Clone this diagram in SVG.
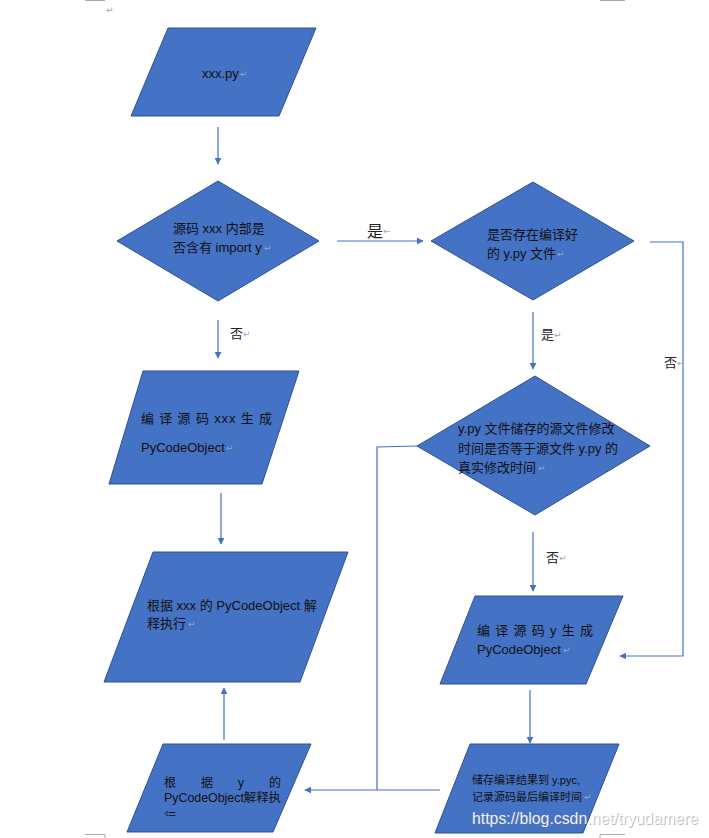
<svg xmlns="http://www.w3.org/2000/svg" width="709" height="838" viewBox="0 0 709 838">
<style>
.shape{fill:#4472C4;stroke:#2F528F;stroke-width:1}
.conn{fill:none;stroke:#4472C4;stroke-width:1.2}
.t{font-family:"Liberation Sans","Noto Sans CJK SC",sans-serif;font-size:13px;fill:#111}
.s{font-size:11px}
.lbl{font-family:"Noto Sans CJK SC","Liberation Sans",sans-serif;font-size:13px;fill:#222}
.rm{font-family:"DejaVu Sans",sans-serif;font-size:9px;fill:#9aa6bf}
.crn{stroke:#aaa;stroke-width:1;fill:none}
.wm{font-family:"Liberation Sans",sans-serif;font-size:17px}
</style>
<defs>
<marker id="ah" viewBox="0 0 10 10" refX="9" refY="5" markerWidth="7" markerHeight="7" markerUnits="userSpaceOnUse" orient="auto">
<path d="M0,0 L10,5 L0,10 z" fill="#4472C4"/>
</marker>
<clipPath id="c6"><rect x="120" y="740" width="200" height="76"/></clipPath>
</defs>
<rect width="709" height="838" fill="#fff"/>
<g id="marks">
<path class="crn" d="M85,0.5 H105 M600,0.5 H625 M85,834.5 H105 M105,834.5 V838 M600,834.5 H625 M600,834.5 V838"/>
<text class="rm" x="106" y="13">↵</text>
</g>
<g id="connectors">
<line class="conn" x1="218" y1="127" x2="218" y2="164" marker-end="url(#ah)"/>
<line class="conn" x1="337" y1="241" x2="423" y2="241" marker-end="url(#ah)"/>
<polyline class="conn" points="650,242 683,242 683,656 620,656" marker-end="url(#ah)"/>
<line class="conn" x1="533" y1="312" x2="533" y2="369" marker-end="url(#ah)"/>
<line class="conn" x1="218" y1="320" x2="218" y2="358" marker-end="url(#ah)"/>
<line class="conn" x1="221" y1="493" x2="221" y2="544" marker-end="url(#ah)"/>
<line class="conn" x1="533" y1="532" x2="533" y2="591" marker-end="url(#ah)"/>
<line class="conn" x1="530" y1="690" x2="530" y2="743" marker-end="url(#ah)"/>
<line class="conn" x1="224" y1="740" x2="224" y2="688" marker-end="url(#ah)"/>
<polyline class="conn" points="418,446 377,447 377,790"/>
<line class="conn" x1="440" y1="790" x2="305" y2="790" marker-end="url(#ah)"/>
<text class="lbl" x="367" y="237" style="font-size:16px">是</text><text class="rm" x="383" y="234">←</text>
<text class="lbl" x="664" y="367">否</text><text class="rm" x="677" y="366">←</text>
<text class="lbl" x="541" y="339">是</text><text class="rm" x="554" y="338">↵</text>
<text class="lbl" x="230" y="338">否</text><text class="rm" x="243" y="337">↵</text>
<text class="lbl" x="546" y="562">否</text><text class="rm" x="559" y="561">↵</text>
</g>
<g id="n1">
<polygon class="shape" points="168,28 316,28 279,116 131,116"/>
<text class="t" x="202" y="78">xxx.py</text><text class="rm" x="240" y="77">↵</text>
</g>
<g id="n2">
<polygon class="shape" points="218,181 319,241 218,301 117,241"/>
<text class="t" x="173" y="233">源码 xxx 内部是</text>
<text class="t" x="173" y="252">否含有 import y</text><text class="rm" x="264" y="251">↵</text>
</g>
<g id="n3">
<polygon class="shape" points="533,182 634,241 533,300 431,241"/>
<text class="t" x="487" y="239">是否存在编译好</text>
<text class="t" x="487" y="258">的 y.py 文件</text><text class="rm" x="557" y="257">↵</text>
</g>
<g id="n4">
<polygon class="shape" points="143,371 299,371 262,484 109,484"/>
<text class="t" x="141" y="423" textLength="131" lengthAdjust="spacing">编 译 源 码 xxx 生 成</text>
<text class="t" x="141" y="452">PyCodeObject</text><text class="rm" x="226" y="451">↵</text>
</g>
<g id="n5">
<polygon class="shape" points="417,446 535,376 650,446 535,515"/>
<text class="t" x="458" y="433">y.py 文件储存的源文件修改</text>
<text class="t" x="458" y="453">时间是否等于源文件 y.py 的</text>
<text class="t" x="458" y="472">真实修改时间</text><text class="rm" x="538" y="471">↵</text>
</g>
<g id="n6">
<polygon class="shape" points="153,552 348,552 300,682 104,682"/>
<text class="t" x="147" y="610">根据 xxx 的 PyCodeObject 解</text>
<text class="t" x="147" y="628">释执行</text><text class="rm" x="188" y="627">↵</text>
</g>
<g id="n7">
<polygon class="shape" points="475,596 623,596 586,684 440,684"/>
<text class="t" x="477" y="635" textLength="116" lengthAdjust="spacing">编 译 源 码 y 生 成</text>
<text class="t" x="477" y="654">PyCodeObject</text><text class="rm" x="563" y="653">↵</text>
</g>
<g id="n8">
<polygon class="shape" points="163,744 311,744 273,832 127,832"/>
<g clip-path="url(#c6)">
<text class="t" x="164" y="787" textLength="117" lengthAdjust="spacing" style="font-size:12px">根 据 y 的</text>
<text class="t" x="164" y="802" textLength="117" lengthAdjust="spacingAndGlyphs" style="font-size:12px">PyCodeObject解释执</text>
<text class="t" x="164" y="822" style="font-size:12px">行</text>
</g>
</g>
<g id="n9">
<polygon class="shape" points="470,744 619,744 583,833 435,833"/>
<text class="t s" x="472" y="784">储存编译结果到 y.pyc,</text>
<text class="t s" x="472" y="801">记录源码最后编译时间</text><text class="rm" x="584" y="800">↵</text>
</g>
<g id="watermark">
<text class="wm" x="473" y="825" textLength="226" lengthAdjust="spacingAndGlyphs" fill="#777" opacity="0.5">https://blog.csdn.net/tryudamere</text>
<text class="wm" x="472" y="824" textLength="226" lengthAdjust="spacingAndGlyphs" fill="#fff" opacity="0.9">https://blog.csdn.net/tryudamere</text>
</g>
</svg>
